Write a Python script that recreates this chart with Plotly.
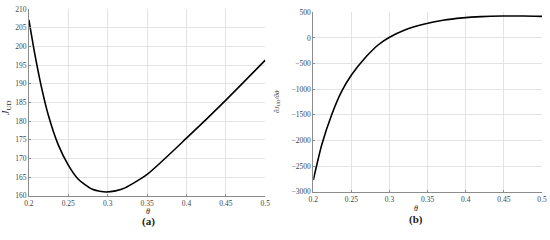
import plotly.graph_objects as go

theta_a = [0.200, 0.2077, 0.2162, 0.2246, 0.2373, 0.250, 0.2627, 0.2797, 0.290, 0.298, 0.310, 0.322, 0.350, 0.400, 0.450, 0.500]
J_ud = [207.1, 197.7, 188.8, 181.6, 173.6, 168.2, 164.4, 161.8, 161.2, 161.0, 161.3, 162.1, 165.7, 175.4, 185.6, 196.3]

theta_b = [0.200, 0.211, 0.224, 0.237, 0.250, 0.2675, 0.285, 0.300, 0.320, 0.346, 0.370, 0.396, 0.420, 0.448, 0.475, 0.500]
dJ = [-2771, -2089, -1503, -1049, -723, -397, -138, 12, 155, 272, 345, 392, 416, 428, 428, 420]

x_ticks = [0.2, 0.25, 0.3, 0.35, 0.4, 0.45, 0.5]
x_tick_text = ["0.2", "0.25", "0.3", "0.35", "0.4", "0.45", "0.5"]
ya_ticks = [160, 165, 170, 175, 180, 185, 190, 195, 200, 205, 210]
yb_ticks = [-3000, -2500, -2000, -1500, -1000, -500, 0, 500]

W, H = 550, 240
FONT = "Liberation Serif"
GRID = "#e3e3e3"
AXC = "#8c8c8c"

fig = go.Figure()
fig.add_trace(go.Scatter(x=theta_a, y=J_ud, mode="lines", line=dict(color="black", width=1.6, shape="spline", smoothing=0.6),
                         xaxis="x", yaxis="y", showlegend=False))
fig.add_trace(go.Scatter(x=theta_b, y=dJ, mode="lines", line=dict(color="black", width=1.6, shape="spline", smoothing=0.6),
                         xaxis="x2", yaxis="y2", showlegend=False))

common = dict(showgrid=True, gridcolor=GRID, gridwidth=1, zeroline=False, showline=True, linecolor=AXC, linewidth=1,
              ticks="inside", ticklen=2, tickcolor=AXC, tickfont=dict(family=FONT, size=7.5, color="#444"),
              mirror=False, automargin=False)

fig.update_layout(
    width=W, height=H, margin=dict(l=0, r=0, t=0, b=0, autoexpand=False),
    paper_bgcolor="white", plot_bgcolor="white",
    xaxis=dict(domain=[28.9 / W, 265.3 / W], range=[0.2, 0.5], tickvals=x_ticks, ticktext=x_tick_text, anchor="y", **common),
    yaxis=dict(domain=[1 - 195.7 / H, 1 - 9 / H], range=[160, 210], tickvals=ya_ticks, anchor="x", **common),
    xaxis2=dict(domain=[313.3 / W, 542 / W], range=[0.2, 0.5], tickvals=x_ticks, ticktext=x_tick_text, anchor="y2", **common),
    yaxis2=dict(domain=[1 - 191.7 / H, 1 - 12.3 / H], range=[-3000, 500], tickvals=yb_ticks, anchor="x2", **common),
)

def ann(text, x, y, size, angle=0):
    fig.add_annotation(text=text, x=x / W, y=1 - y / H, xref="paper", yref="paper", showarrow=False,
                       xanchor="center", yanchor="middle", textangle=angle,
                       font=dict(family=FONT, size=size, color="#222"))

ann("<i>θ</i>", 148, 211, 8)
ann("<i>θ</i>", 416, 208, 8)
ann("<i>J</i><sub>UD</sub>", 7, 108, 10, -90)
ann("∂<i>J</i><sub>UD</sub>/∂<i>θ</i>", 277, 102, 7, -90)
ann("<b>(a)</b>", 148, 221, 11)
ann("<b>(b)</b>", 416, 219, 11)

fig.write_html("out.html", config={"displayModeBar": False, "staticPlot": True},
               post_script="document.body.style.margin='0';document.body.style.overflow='hidden';")
